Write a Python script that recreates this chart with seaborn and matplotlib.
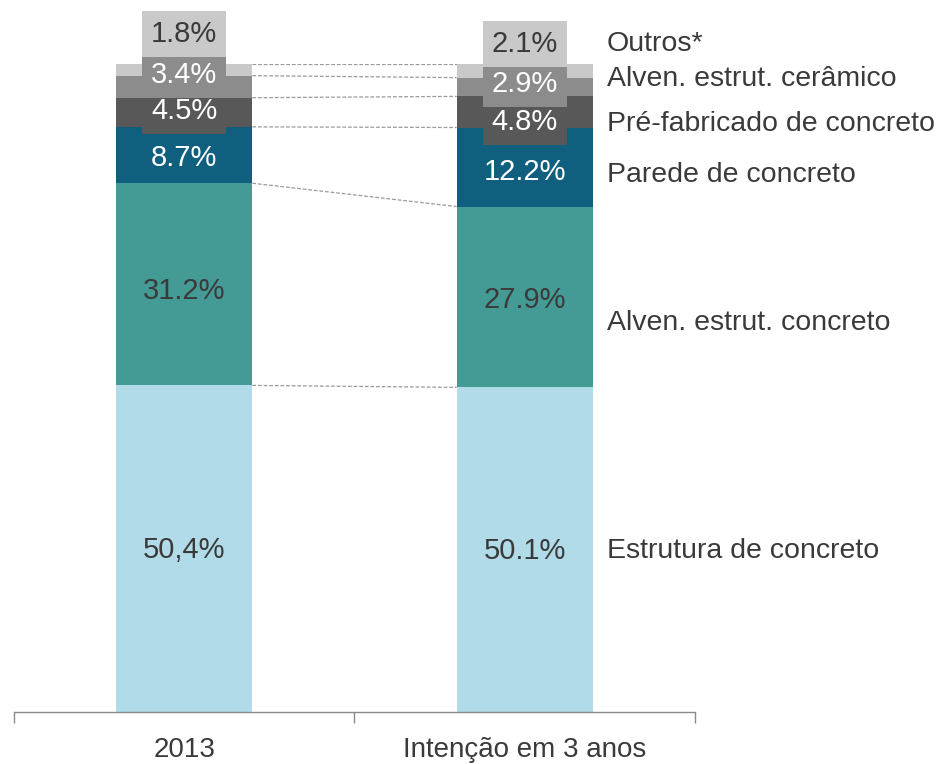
import matplotlib
matplotlib.use("Agg")
import matplotlib.pyplot as plt
import seaborn as sns
import numpy as np

# data
categories = ["2013", "Intenção em 3 anos"]
series = ["Estrutura de concreto", "Alven. estrut. concreto", "Parede de concreto",
          "Pré-fabricado de concreto", "Alven. estrut. cerâmico", "Outros*"]
values_2013 = [50.4, 31.2, 8.7, 4.5, 3.4, 1.8]
values_3anos = [50.1, 27.9, 12.2, 4.8, 2.9, 2.1]
labels_2013 = ["50,4%", "31.2%", "8.7%", "4.5%", "3.4%", "1.8%"]
labels_3anos = ["50.1%", "27.9%", "12.2%", "4.8%", "2.9%", "2.1%"]

# styles
colors = ["#b1dbe8", "#449a94", "#105f7e", "#585858", "#8c8c8c", "#c9c9c9"]
text_colors = ["#3a3a3a", "#3a3a3a", "white", "white", "white", "#3a3a3a"]
boxed = [False, False, False, True, True, True]
offs_2013 = [-0.2, -1.1, -0.5, 0.2, 1.8, 5.5]
offs_3anos = [-0.2, -0.5, -0.8, -1.6, 0.5, 4.1]
series_label_y = [24.9, 60.1, 82.8, 90.7, 97.7, 103.1]

sns.set_style("white")
plt.rcParams["font.family"] = ["Liberation Sans", "DejaVu Sans"]

fig = plt.figure(figsize=(9.45, 7.64), dpi=100)
ax = fig.add_axes([14 / 945, 52 / 764, 681 / 945, 648 / 764])

width = 0.4
bottom = np.zeros(2)
for i, name in enumerate(series):
    vals = [values_2013[i], values_3anos[i]]
    sns.barplot(x=categories, y=vals, bottom=bottom, color=colors[i],
                width=width, saturation=1, ax=ax, zorder=2, linewidth=0)
    bottom = bottom + np.array(vals)

# dashed connectors between stacks
cum_a = np.cumsum(values_2013)
cum_b = np.cumsum(values_3anos)
for ya, yb in zip(cum_a, cum_b):
    ax.plot([width / 2, 1 - width / 2], [ya, yb], ls="--", color="#9a9a9a",
            lw=0.9, zorder=1, dashes=(3, 1.5))

# value labels
for xi, vals, labs, offs in [(0, values_2013, labels_2013, offs_2013),
                             (1, values_3anos, labels_3anos, offs_3anos)]:
    cum = np.cumsum(vals)
    for i, v in enumerate(vals):
        y = cum[i] - v / 2 + offs[i]
        bbox = None
        if boxed[i]:
            bbox = dict(boxstyle="square,pad=0.3", fc=colors[i], ec="none")
        ax.text(xi, y, labs[i], ha="center", va="center", fontsize=21,
                color=text_colors[i], bbox=bbox, zorder=5)

# series names on the right
for name, y in zip(series, series_label_y):
    ax.text(1.241, y, name, ha="left", va="center", fontsize=20.5,
            color="#3a3a3a", clip_on=False)

ax.set_xlim(-0.5, 1.5)
ax.set_ylim(0, 100)
ax.set_yticks([])
ax.set_xticks([-0.5, 0.5, 1.5])
ax.set_xticklabels([])
ax.set_xticks([0, 1], minor=True)
ax.set_xticklabels(categories, minor=True, fontsize=20, color="#3a3a3a")
ax.tick_params(axis="x", which="major", direction="out", length=8,
               width=1, color="#8a8a8a", bottom=True)
ax.tick_params(axis="x", which="minor", length=0, pad=18)
ax.set_xlabel("")
for s in ["top", "right", "left"]:
    ax.spines[s].set_visible(False)
ax.spines["bottom"].set_color("#8a8a8a")
ax.spines["bottom"].set_linewidth(1)
ax.patch.set_alpha(0)

fig.savefig("out.png", dpi=100)
